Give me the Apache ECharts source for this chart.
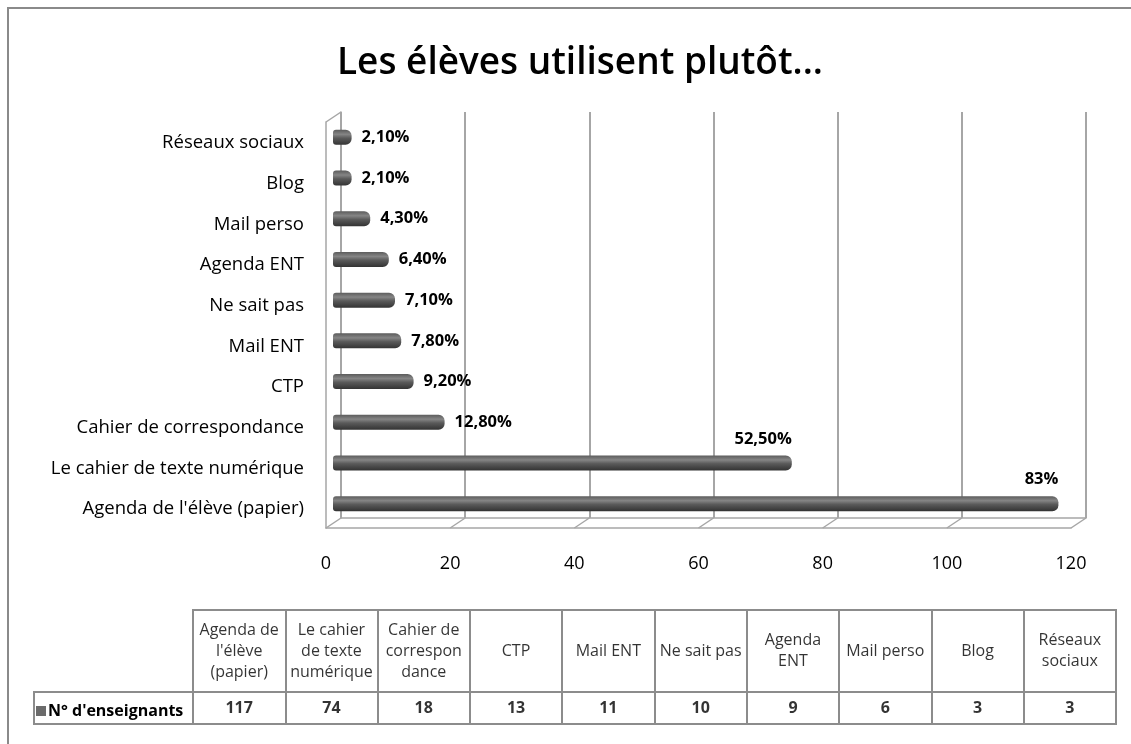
<!DOCTYPE html>
<html>
<head>
<meta charset="utf-8">
<title>Les élèves utilisent plutôt...</title>
<script src="https://cdn.jsdelivr.net/npm/echarts@6/dist/echarts.min.js"></script>
<style>
  html, body { margin: 0; padding: 0; background: #fff; }
  #chart { width: 1131px; height: 744px; }
</style>
</head>
<body>
<div id="chart"></div>
<script>
// valeurs, de bas en haut
var categories = ["Agenda de l'élève (papier)", 'Le cahier de texte numérique', 'Cahier de correspondance', 'CTP', 'Mail ENT', 'Ne sait pas', 'Agenda ENT', 'Mail perso', 'Blog', 'Réseaux sociaux'];
var nbEnseignants = [117, 74, 18, 13, 11, 10, 9, 6, 3, 3];
var pourcentages = ['83%', '52,50%', '12,80%', '9,20%', '7,80%', '7,10%', '6,40%', '4,30%', '2,10%', '2,10%'];
var tableHeads = ["Agenda de\nl'élève\n(papier)", 'Le cahier\nde texte\nnumérique', 'Cahier de\ncorrespon\ndance', 'CTP', 'Mail ENT', 'Ne sait pas', 'Agenda\nENT', 'Mail perso', 'Blog', 'Réseaux\nsociaux'];
var xTicks = [0, 20, 40, 60, 80, 100, 120];
var serieName = "N° d'enseignants";

var font = 'Open Sans';
var wallColor = '#a6a6a6';
var tableLine = '#8c8c8c';

var chart = echarts.init(document.getElementById('chart'));

var barData = nbEnseignants.map(function (v, i) {
  var item = { value: v };
  if (v > 50) {
    // les grandes barres ont leur étiquette au-dessus
    item.label = { position: ['100%', -8], align: 'right', verticalAlign: 'bottom', distance: 0 };
  }
  return item;
});

var hideAxis = { axisLine: { show: false }, axisTick: { show: false }, axisLabel: { show: false }, splitLine: { show: false } };

var options = {
  backgroundColor: '#fff',
  animation: false,
  title: {
    text: 'Les élèves utilisent plutôt...',
    left: 575,
    textAlign: 'center',
    top: 40,
    textStyle: { fontFamily: font, fontSize: 37, fontWeight: 600, color: '#000' }
  },
  legend: {
    left: 31, top: 698,
    icon: 'rect', itemWidth: 10, itemHeight: 10, itemGap: 4,
    selectedMode: false,
    data: [{ name: serieName, itemStyle: { color: '#6b6b6b' } }],
    textStyle: { fontFamily: font, fontSize: 16, fontWeight: 'bold', color: '#000', padding: [0, 0, 0, -3] }
  },
  graphic: [
    { type: 'rect', shape: { x: 8, y: 8, width: 1200, height: 800 }, style: { fill: 'none', stroke: '#8a8a8a', lineWidth: 2 }, z: -1 },
    { type: 'rect', shape: { x: 34, y: 692, width: 159, height: 32 }, style: { fill: 'none', stroke: tableLine, lineWidth: 2 } }
  ],
  grid: [
    { left: 341, top: 112, width: 745, height: 406 },               // paroi du fond
    { left: 326, top: 122, width: 745, height: 406 },               // plan avant
    { left: 333, top: 117, width: 744, height: 407 },               // barres
    { left: 193, top: 610, width: 923, height: 82, show: true, borderColor: tableLine, borderWidth: 2 },
    { left: 193, top: 692, width: 923, height: 32, show: true, borderColor: tableLine, borderWidth: 2 }
  ],
  xAxis: [
    {
      gridIndex: 0, type: 'value', min: 0, max: 120, interval: 20,
      axisLine: { show: true, lineStyle: { color: wallColor, width: 1.5 } },
      axisTick: { show: false }, axisLabel: { show: false },
      splitLine: { show: true, lineStyle: { color: wallColor, width: 2 } }
    },
    {
      gridIndex: 1, type: 'value', min: 0, max: 120, interval: 20,
      axisLine: { show: true, lineStyle: { color: wallColor, width: 1.5 } },
      axisTick: { show: false }, splitLine: { show: false },
      axisLabel: { margin: 27, fontFamily: font, fontSize: 18, color: '#000' }
    },
    Object.assign({ gridIndex: 2, type: 'value', min: 0, max: 120, interval: 20 }, hideAxis),
    Object.assign({ gridIndex: 3, type: 'category', data: tableHeads }, hideAxis,
      { splitLine: { show: true, interval: 0, lineStyle: { color: tableLine, width: 2 } } }),
    Object.assign({ gridIndex: 4, type: 'category', data: tableHeads }, hideAxis,
      { splitLine: { show: true, interval: 0, lineStyle: { color: tableLine, width: 2 } } })
  ],
  yAxis: [
    Object.assign({ gridIndex: 0, type: 'value', min: 0, max: 1 }, hideAxis,
      { axisLine: { show: true, lineStyle: { color: wallColor, width: 1.5 } } }),
    Object.assign({ gridIndex: 1, type: 'value', min: 0, max: 1 }, hideAxis,
      { axisLine: { show: true, lineStyle: { color: wallColor, width: 1.5 } } }),
    {
      gridIndex: 2, type: 'category', data: categories,
      axisLine: { show: false }, axisTick: { show: false },
      // libellés un peu plus bas que les barres (plan avant)
      axisLabel: { margin: 29, fontFamily: font, fontSize: 18.5, color: '#000', verticalAlign: 'top', lineHeight: 11 }
    },
    Object.assign({ gridIndex: 3, type: 'value', min: 0, max: 1 }, hideAxis),
    Object.assign({ gridIndex: 4, type: 'value', min: 0, max: 1 }, hideAxis)
  ],
  series: [
    {
      // petites obliques de la perspective
      type: 'custom', xAxisIndex: 0, yAxisIndex: 0, silent: true, clip: false,
      data: xTicks.map(function (v) { return [v, 0]; }),
      renderItem: function (params, api) {
        var b = api.coord([api.value(0), 0]);
        var kids = [{ type: 'line', shape: { x1: b[0], y1: b[1], x2: b[0] - 15, y2: b[1] + 10 }, style: { stroke: wallColor, lineWidth: 1.5 } }];
        if (params.dataIndex === 0) {
          var t = api.coord([0, 1]);
          kids.push({ type: 'line', shape: { x1: t[0], y1: t[1], x2: t[0] - 15, y2: t[1] + 10 }, style: { stroke: wallColor, lineWidth: 1.5 } });
        }
        return { type: 'group', children: kids };
      }
    },
    {
      name: serieName, type: 'bar', xAxisIndex: 2, yAxisIndex: 2,
      data: barData, barWidth: 15,
      itemStyle: {
        borderRadius: [3, 6, 6, 3],
        color: new echarts.graphic.LinearGradient(0, 0, 0, 1, [
          { offset: 0, color: '#5c5c5c' },
          { offset: 0.3, color: '#858585' },
          { offset: 0.55, color: '#5a5a5a' },
          { offset: 1, color: '#333333' }
        ])
      },
      label: {
        show: true, position: 'right', distance: 10,
        formatter: function (p) { return pourcentages[p.dataIndex]; },
        fontFamily: font, fontSize: 16.5, fontWeight: 'bold', color: '#000'
      }
    },
    {
      type: 'scatter', xAxisIndex: 3, yAxisIndex: 3, symbolSize: 0, silent: true,
      data: tableHeads.map(function (h, i) { return [i, 0.5]; }),
      label: {
        show: true, position: 'inside',
        formatter: function (p) { return tableHeads[p.dataIndex]; },
        fontFamily: font, fontSize: 16, lineHeight: 21, color: '#000'
      }
    },
    {
      type: 'scatter', xAxisIndex: 4, yAxisIndex: 4, symbolSize: 0, silent: true,
      data: nbEnseignants.map(function (v, i) { return [i, 0.5]; }),
      label: {
        show: true, position: 'inside',
        formatter: function (p) { return String(nbEnseignants[p.dataIndex]); },
        fontFamily: font, fontSize: 16, fontWeight: 'bold', color: '#000'
      }
    }
  ]
};

chart.setOption(options);
</script>
</body>
</html>
